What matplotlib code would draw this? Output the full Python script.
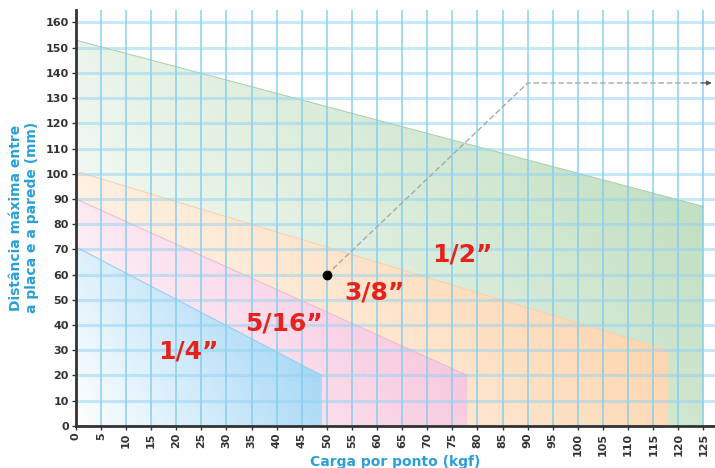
import numpy as np
import matplotlib
matplotlib.use('Agg')
from matplotlib import pyplot as plt
from matplotlib.patches import Polygon

# bolt sizes: each band goes straight from (0, y_start) to (x_end, y_end)
sizes = ['1/2\u201d', '3/8\u201d', '5/16\u201d', '1/4\u201d']
x_end = [125, 118, 78, 49]
y_start = [153, 101, 90, 71]
y_end = [87, 30, 20, 20]
colors = ['#b9dbb9', '#fdcb9a', '#f5b6d4', '#8ecdf3']
edge_colors = ['#a9cfa9', '#f9d0a8', '#f2b6cf', '#8ecdf3']
label_x = [77, 59.5, 41.5, 22.5]
label_y = [68, 53, 40.5, 29.5]

# example point and guide line
pt_x, pt_y = 50, 60
guide_x = [50, 90, 126.5]
guide_y = [60, 136, 136]

xticks = list(range(0, 130, 5))
yticks = list(range(0, 170, 10))

fig = plt.figure(figsize=(7.15, 4.68), dpi=100)
ax = fig.add_axes([0.106, 0.09, 0.894, 0.889])
xmax, ymax = 127.3, 165
ax.set_xlim(0, xmax)
ax.set_ylim(0, ymax)

gx, gy = np.meshgrid(np.linspace(0, xmax, 400), np.linspace(0, ymax, 400))
for i in range(len(sizes)):
    verts = [(0, 0), (0, y_start[i]), (x_end[i], y_end[i]), (x_end[i], 0)]
    poly = Polygon(verts, closed=True, facecolor='none', edgecolor='none')
    ax.add_patch(poly)
    t = np.clip(gx / x_end[i] * 0.7 + gy / y_start[i] * 0.3, 0, 1)
    c = np.array(matplotlib.colors.to_rgb(colors[i]))
    rgb = (1 - t[..., None]) * 1.0 + t[..., None] * c
    im = ax.imshow(rgb, origin='lower', extent=[0, xmax, 0, ymax],
                   aspect='auto', zorder=1 + i * 0.1, interpolation='bilinear')
    im.set_clip_path(poly)
    ax.plot([0, x_end[i]], [y_start[i], y_end[i]], color=edge_colors[i],
            lw=0.7, zorder=1.05 + i * 0.1)
    ax.text(label_x[i], label_y[i], sizes[i], color='#e5221c', fontsize=18,
            fontweight='bold', ha='center', va='center', zorder=5)

# grid: thin vertical lines, wider paler horizontal bands
for x in xticks:
    ax.axvline(x, color='#7ccaef', lw=1.3, alpha=0.75, zorder=2)
for y in yticks:
    ax.axhline(y, color='#93d3f2', lw=2.2, alpha=0.5, zorder=2)

ax.plot(guide_x, guide_y, color='#a8a8a8', lw=1, ls=(0, (4, 2)), zorder=3)
ax.annotate('', xy=(127.2, 136), xytext=(124, 136), annotation_clip=False,
            arrowprops=dict(arrowstyle='-|>', color='#555555', lw=0.8,
                            mutation_scale=7), zorder=3)
ax.plot([pt_x], [pt_y], 'o', color='black', ms=6, zorder=4)

ax.set_xticks(xticks)
ax.set_yticks(yticks)
ax.tick_params(axis='x', labelrotation=90)
ax.tick_params(length=3, width=1, color='#333333', labelsize=8,
               labelcolor='#333333', pad=2)
for lab in ax.get_xticklabels() + ax.get_yticklabels():
    lab.set_fontweight('bold')
for s in ['top', 'right']:
    ax.spines[s].set_visible(False)
for s in ['left', 'bottom']:
    ax.spines[s].set_linewidth(2)
    ax.spines[s].set_color('#333333')
    ax.spines[s].set_zorder(6)

ax.set_ylabel('Dist\u00e2ncia m\u00e1xima entre\na placa e a parede (mm)',
              color='#2a9fd9', fontsize=10, fontweight='bold', labelpad=5,
              linespacing=1.15)
ax.set_xlabel('Carga por ponto (kgf)', color='#2a9fd9', fontsize=10,
              fontweight='bold', labelpad=-1)

fig.savefig('out.png', dpi=100)
